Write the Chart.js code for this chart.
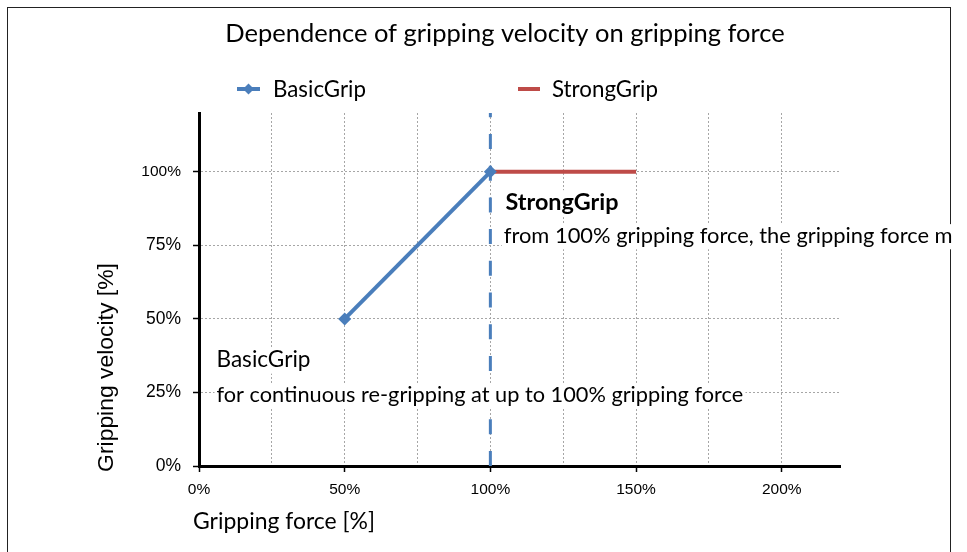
<!DOCTYPE html>
<html>
<head>
<meta charset="utf-8">
<script src="https://cdn.jsdelivr.net/npm/chart.js@4"></script>
<style>
  html, body { margin: 0; background: #fff; }
  #wrap { width: 967px; height: 552px; position: relative; }
</style>
</head>
<body>
<div id="wrap"><canvas id="gripChart"></canvas></div>
<script>
// chart values
const basicForce = [50, 100];
const basicVelocity = [50, 100];
const strongForce = [100, 150];
const strongVelocity = [100, 100];
const limitForce = [100, 100];      // dashed line at 100% gripping force
const limitVelocity = [0, 120];
const seriesNames = ['BasicGrip', 'StrongGrip'];
const xLabelTicks = [0, 50, 100, 150, 200];
const yLabelTicks = [0, 25, 50, 75, 100];

const titleText = 'Dependence of gripping velocity on gripping force';
const xTitle = 'Gripping force [%]';
const yTitle = 'Gripping velocity [%]';
const strongNote = ['StrongGrip', 'from 100% gripping force, the gripping force m'];
const basicNote = ['BasicGrip', 'for continuous re-gripping at up to 100% gripping force'];

const BLUE = '#4A7EBB';
const RED = '#BE4B48';
const CAL = 'Lato, "Noto Sans", sans-serif';
const ARIAL = '"Liberation Sans", Arial, sans-serif';

const pts = (xs, ys) => xs.map((x, i) => ({ x: x, y: ys[i] }));

// pick a font size so the text gets the width it has in the picture
function fitFont(ctx, text, width, weight, family) {
  ctx.font = weight + ' 100px ' + family;
  const size = 100 * width / ctx.measureText(text).width;
  ctx.font = weight + ' ' + size + 'px ' + family;
  return size;
}

function noteLine(ctx, text, x, baseline, width, weight) {
  const size = fitFont(ctx, text, width, weight, CAL);
  ctx.fillStyle = '#fff';
  ctx.fillRect(x - 2, baseline - size * 0.85, width + 4, size * 1.15);
  ctx.fillStyle = '#000';
  ctx.textAlign = 'left';
  ctx.textBaseline = 'alphabetic';
  ctx.fillText(text, x, baseline);
}

const decor = {
  id: 'decor',
  beforeDraw(chart) {
    const ctx = chart.ctx;
    ctx.save();
    ctx.fillStyle = '#fff';
    ctx.fillRect(0, 0, chart.width, chart.height);
    ctx.strokeStyle = '#222';
    ctx.lineWidth = 1;
    ctx.strokeRect(7.5, 7.5, 943, 600);
    ctx.restore();
  },
  afterDatasetsDraw(chart) {
    const ctx = chart.ctx;
    const x = chart.scales.x, y = chart.scales.y;
    ctx.save();
    noteLine(ctx, strongNote[0], x.getPixelForValue(105.2), y.getPixelForValue(87.0), 113, 'bold');
    noteLine(ctx, strongNote[1], x.getPixelForValue(104.6), y.getPixelForValue(75.9), 449, 'normal');
    noteLine(ctx, basicNote[0], x.getPixelForValue(6.0), y.getPixelForValue(33.7), 94, 'normal');
    noteLine(ctx, basicNote[1], x.getPixelForValue(6.0), y.getPixelForValue(21.9), 527, 'normal');
    ctx.restore();
  },
  afterDraw(chart) {
    const ctx = chart.ctx;
    ctx.save();
    ctx.fillStyle = '#000';
    ctx.textBaseline = 'alphabetic';

    // title
    fitFont(ctx, titleText, 560, 'normal', CAL);
    ctx.textAlign = 'center';
    ctx.fillText(titleText, 505, 42);

    // legend
    fitFont(ctx, seriesNames[0], 93, 'normal', CAL);
    ctx.textAlign = 'left';
    ctx.fillText(seriesNames[0], 273, 96.5);
    ctx.fillText(seriesNames[1], 552, 96.5);
    ctx.lineWidth = 4;
    ctx.strokeStyle = BLUE;
    ctx.beginPath(); ctx.moveTo(237, 89); ctx.lineTo(260, 89); ctx.stroke();
    ctx.fillStyle = BLUE;
    ctx.beginPath();
    ctx.moveTo(248.5, 83.5); ctx.lineTo(254, 89); ctx.lineTo(248.5, 94.5); ctx.lineTo(243, 89);
    ctx.closePath(); ctx.fill();
    ctx.strokeStyle = RED;
    ctx.beginPath(); ctx.moveTo(518, 89); ctx.lineTo(540, 89); ctx.stroke();

    // axis titles
    ctx.fillStyle = '#000';
    fitFont(ctx, xTitle, 182, 'normal', CAL);
    ctx.fillText(xTitle, 193, 529);
    fitFont(ctx, yTitle, 209, 'normal', ARIAL);
    ctx.translate(113, 367.5);
    ctx.rotate(-Math.PI / 2);
    ctx.textAlign = 'center';
    ctx.fillText(yTitle, 0, 0);
    ctx.restore();
  }
};

const gridStyle = { color: '#a6a6a6', lineWidth: 1, tickLength: 6, tickWidth: 1.5 };

new Chart(document.getElementById('gripChart'), {
  type: 'line',
  data: {
    datasets: [
      {
        label: seriesNames[0],
        data: pts(basicForce, basicVelocity),
        borderColor: BLUE,
        backgroundColor: BLUE,
        borderWidth: 4,
        pointStyle: 'rectRot',
        pointRadius: 6.5,
        pointBorderWidth: 0,
        pointBackgroundColor: BLUE
      },
      {
        label: seriesNames[1],
        data: pts(strongForce, strongVelocity),
        borderColor: RED,
        borderWidth: 4,
        pointRadius: 0
      },
      {
        label: 'limit',
        data: pts(limitForce, limitVelocity),
        borderColor: BLUE,
        borderWidth: 3,
        borderDash: [15, 16.7],
        pointRadius: 0
      }
    ]
  },
  options: {
    responsive: true,
    maintainAspectRatio: false,
    animation: false,
    events: [],
    layout: { padding: { top: 113, right: 127, left: 0, bottom: 0 } },
    plugins: { legend: { display: false }, title: { display: false }, tooltip: { enabled: false } },
    scales: {
      x: {
        type: 'linear',
        min: 0,
        max: 220,
        afterFit: s => { s.height = 86; },
        border: { display: true, color: '#000', width: 3, dash: [2, 2] },
        grid: Object.assign({}, gridStyle, {
          tickColor: c => xLabelTicks.includes(c.tick.value) ? '#000' : 'rgba(0,0,0,0)'
        }),
        ticks: {
          stepSize: 25,
          includeBounds: false,
          autoSkip: false,
          maxRotation: 0,
          padding: 8,
          color: '#000',
          font: { family: ARIAL, size: 15.5 },
          callback: v => xLabelTicks.includes(v) ? v + '%' : ''
        }
      },
      y: {
        type: 'linear',
        min: 0,
        max: 120,
        afterFit: s => { s.width = 199; },
        border: { display: true, color: '#000', width: 3, dash: [2, 2] },
        grid: Object.assign({}, gridStyle, { tickColor: '#000' }),
        ticks: {
          stepSize: 25,
          includeBounds: false,
          padding: 12,
          color: '#000',
          font: c => ({ family: ARIAL, size: c.tick && c.tick.value === 100 ? 15.5 : 17.5 }),
          callback: v => yLabelTicks.includes(v) ? v + '%' : ''
        }
      }
    }
  },
  plugins: [decor]
});
</script>
</body>
</html>
